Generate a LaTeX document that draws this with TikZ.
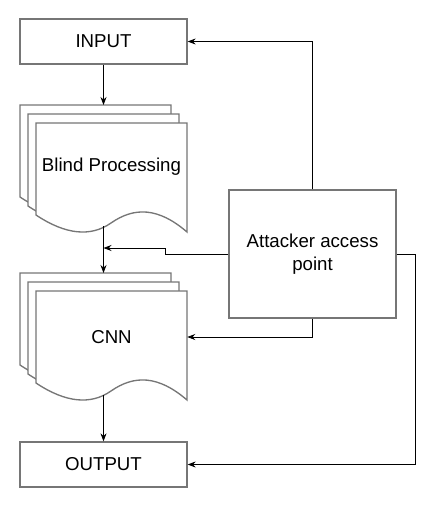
\documentclass[tikz,border=0pt]{standalone}
\usepackage{fontspec}
\setmainfont{Liberation Sans}
\usetikzlibrary{arrows.meta}
\definecolor{boxgray}{RGB}{118,118,118}
\begin{document}
\begin{tikzpicture}[x=0.75pt,y=-0.75pt,font=\fontsize{14}{17}\selectfont,
        box/.style={draw=boxgray,line width=1pt,minimum width=125.25pt,minimum height=33.75pt,inner sep=0pt},
        sheet/.style={draw=boxgray,line width=1pt,fill=white},
        arr/.style={-{Stealth[length=6pt,width=4.5pt]},line width=0.6pt}]
        \useasboundingbox (0,0) rectangle (436,508);
        %% input and output
        \node[box] (in) at (103.5,41.5) {INPUT};
        \node[box] (out) at (103.5,464.5) {OUTPUT};
        %% blind processing stack
        \begin{scope}[shift={(20,105)}]
            \foreach \d in {0,8,16}
                \draw[sheet] (\d,92+1.125*\d) -- (\d,1.125*\d) -- (151+\d,1.125*\d) -- (151+\d,109+1.125*\d)
                    .. controls (122+\d,84+1.125*\d) and (98+\d,84+1.125*\d) .. (75+\d,100+1.125*\d)
                    .. controls (55+\d,114+1.125*\d) and (30+\d,112+1.125*\d) .. cycle;
        \end{scope}
        \node[minimum width=113.25pt,inner sep=0pt] (bp) at (111.5,167) {Blind Processing};
        %% cnn stack
        \begin{scope}[shift={(20,273)}]
            \foreach \d in {0,8,16}
                \draw[sheet] (\d,92+1.125*\d) -- (\d,1.125*\d) -- (151+\d,1.125*\d) -- (151+\d,109+1.125*\d)
                    .. controls (122+\d,84+1.125*\d) and (98+\d,84+1.125*\d) .. (75+\d,100+1.125*\d)
                    .. controls (55+\d,114+1.125*\d) and (30+\d,112+1.125*\d) .. cycle;
        \end{scope}
        \node[minimum width=113.25pt,inner sep=0pt] (cnn) at (111.5,337) {CNN};
        %% attacker
        \node[box,minimum height=96pt,align=center] (att) at (312.5,254) {Attacker access\\point};
        %% main flow
        \coordinate (bptop) at (103.5,105);
        \coordinate (bpbot) at (103.5,226);
        \coordinate (tap) at (103.5,248);
        \coordinate (cnntop) at (103.5,273);
        \coordinate (cnnbot) at (103.5,395);
        \draw[arr] (in.south) -- (bptop);
        \draw[line width=0.6pt] (bpbot) -- (tap);
        \draw[arr] (tap) -- (cnntop);
        \draw[arr] (cnnbot) -- (out.north);
        %% attacks
        \draw[arr] (att.north) |- (in.east);
        \draw[arr] (att.west) -- ++(-63,0) |- (tap);
        \draw[arr] (att.south) |- (cnn.east);
        \draw[arr] (att.east) -- ++(19,0) |- (out.east);
\end{tikzpicture}
\end{document}
